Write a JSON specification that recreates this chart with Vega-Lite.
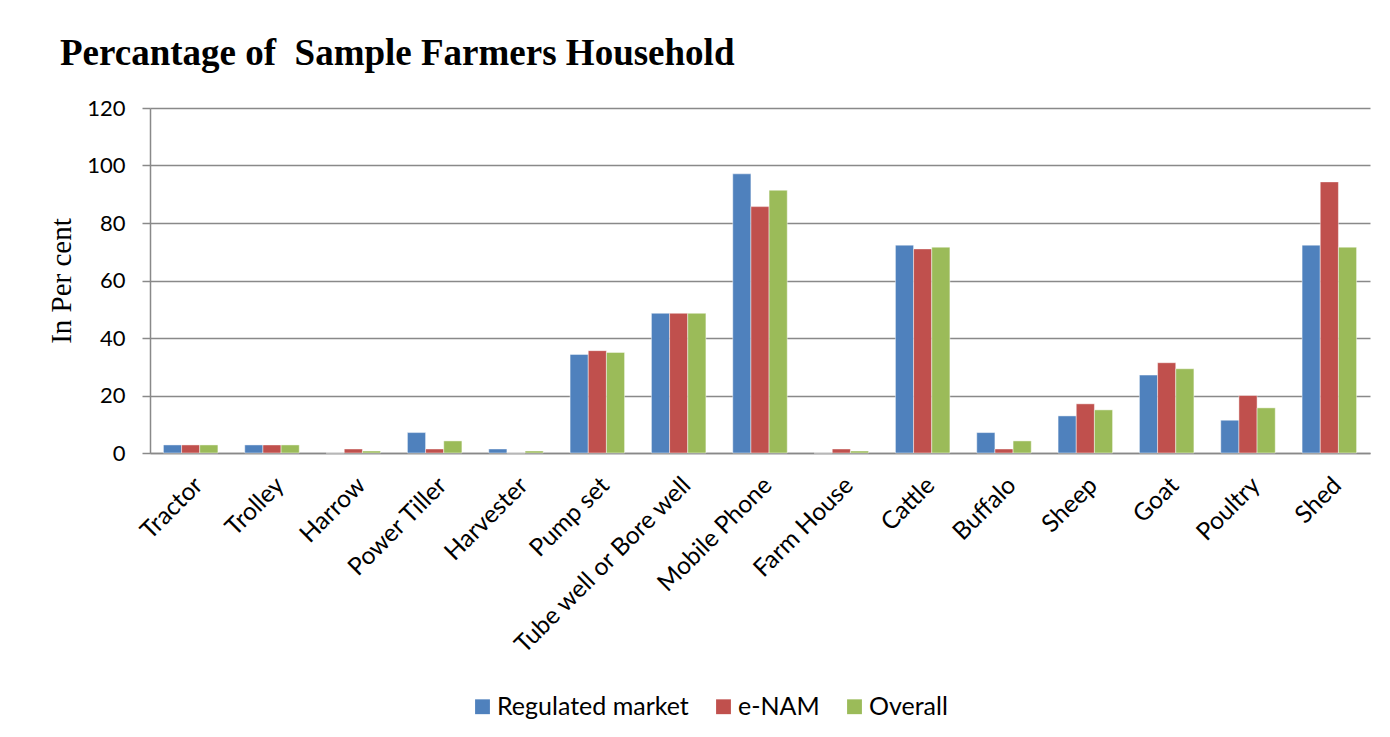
{
  "$schema": "https://vega.github.io/schema/vega-lite/v6.json",
  "width": 1220,
  "height": 345,
  "autosize": "none",
  "padding": {"left": 150, "top": 108, "right": 20, "bottom": 284},
  "background": "white",
  "title": {
    "text": "Percantage of\u00a0 Sample Farmers Household",
    "anchor": "start",
    "frame": "group",
    "dx": -90,
    "offset": -5,
    "baseline": "alphabetic",
    "font": "Liberation Serif",
    "fontSize": 37,
    "fontWeight": "bold",
    "color": "black"
  },
  "data": {
    "values": [
      {"item": "Tractor", "series": "Regulated market", "value": 2.8},
      {"item": "Tractor", "series": "e-NAM", "value": 2.8},
      {"item": "Tractor", "series": "Overall", "value": 2.8},
      {"item": "Trolley", "series": "Regulated market", "value": 2.8},
      {"item": "Trolley", "series": "e-NAM", "value": 2.8},
      {"item": "Trolley", "series": "Overall", "value": 2.8},
      {"item": "Harrow", "series": "Regulated market", "value": 0},
      {"item": "Harrow", "series": "e-NAM", "value": 1.4},
      {"item": "Harrow", "series": "Overall", "value": 0.7},
      {"item": "Power Tiller", "series": "Regulated market", "value": 7.1},
      {"item": "Power Tiller", "series": "e-NAM", "value": 1.4},
      {"item": "Power Tiller", "series": "Overall", "value": 4.2},
      {"item": "Harvester", "series": "Regulated market", "value": 1.4},
      {"item": "Harvester", "series": "e-NAM", "value": 0},
      {"item": "Harvester", "series": "Overall", "value": 0.7},
      {"item": "Pump set", "series": "Regulated market", "value": 34.3},
      {"item": "Pump set", "series": "e-NAM", "value": 35.6},
      {"item": "Pump set", "series": "Overall", "value": 35.0},
      {"item": "Tube well or Bore well", "series": "Regulated market", "value": 48.6},
      {"item": "Tube well or Bore well", "series": "e-NAM", "value": 48.6},
      {"item": "Tube well or Bore well", "series": "Overall", "value": 48.6},
      {"item": "Mobile Phone", "series": "Regulated market", "value": 97.1},
      {"item": "Mobile Phone", "series": "e-NAM", "value": 85.7},
      {"item": "Mobile Phone", "series": "Overall", "value": 91.4},
      {"item": "Farm House", "series": "Regulated market", "value": 0},
      {"item": "Farm House", "series": "e-NAM", "value": 1.4},
      {"item": "Farm House", "series": "Overall", "value": 0.7},
      {"item": "Cattle", "series": "Regulated market", "value": 72.3},
      {"item": "Cattle", "series": "e-NAM", "value": 71.0},
      {"item": "Cattle", "series": "Overall", "value": 71.6},
      {"item": "Buffalo", "series": "Regulated market", "value": 7.1},
      {"item": "Buffalo", "series": "e-NAM", "value": 1.4},
      {"item": "Buffalo", "series": "Overall", "value": 4.2},
      {"item": "Sheep", "series": "Regulated market", "value": 12.9},
      {"item": "Sheep", "series": "e-NAM", "value": 17.1},
      {"item": "Sheep", "series": "Overall", "value": 15.0},
      {"item": "Goat", "series": "Regulated market", "value": 27.1},
      {"item": "Goat", "series": "e-NAM", "value": 31.4},
      {"item": "Goat", "series": "Overall", "value": 29.3},
      {"item": "Poultry", "series": "Regulated market", "value": 11.4},
      {"item": "Poultry", "series": "e-NAM", "value": 20.0},
      {"item": "Poultry", "series": "Overall", "value": 15.7},
      {"item": "Shed", "series": "Regulated market", "value": 72.3},
      {"item": "Shed", "series": "e-NAM", "value": 94.3},
      {"item": "Shed", "series": "Overall", "value": 71.6}
    ]
  },
  "mark": {"type": "bar", "stroke": "white", "strokeOpacity": 0.45, "strokeWidth": 1},
  "encoding": {
    "x": {
      "field": "item",
      "type": "nominal",
      "sort": null,
      "title": null,
      "scale": {"paddingInner": 0.33, "paddingOuter": 0.165},
      "axis": {
        "labelAngle": -45,
        "labelFont": "Lato",
        "labelFontSize": 24.5,
        "labelColor": "black",
        "labelLimit": 400,
        "labelPadding": 20,
        "labelDx": -4,
        "ticks": false,
        "domainColor": "#898989",
        "domainWidth": 1.5
      }
    },
    "xOffset": {
      "field": "series",
      "type": "nominal",
      "sort": ["Regulated market", "e-NAM", "Overall"]
    },
    "y": {
      "field": "value",
      "type": "quantitative",
      "title": "In Per cent",
      "scale": {"domain": [0, 120]},
      "axis": {
        "values": [0, 20, 40, 60, 80, 100, 120],
        "labelFont": "Lato",
        "labelFontSize": 22,
        "labelColor": "black",
        "labelPadding": 17,
        "tickSize": 8,
        "tickColor": "#898989",
        "tickWidth": 1.5,
        "domainColor": "#898989",
        "domainWidth": 1.5,
        "grid": true,
        "gridColor": "#898989",
        "gridWidth": 1.5,
        "titleFont": "Liberation Serif",
        "titleFontSize": 29,
        "titleFontWeight": "normal",
        "titleColor": "black",
        "titlePadding": 10
      }
    },
    "color": {
      "field": "series",
      "type": "nominal",
      "sort": ["Regulated market", "e-NAM", "Overall"],
      "scale": {
        "domain": ["Regulated market", "e-NAM", "Overall"],
        "range": ["#4F81BD", "#C0504D", "#9BBB59"]
      },
      "legend": {
        "title": null,
        "orient": "none",
        "direction": "horizontal",
        "legendX": 320,
        "legendY": 586,
        "symbolType": "square",
        "symbolSize": 220,
        "symbolStrokeWidth": 0,
        "symbolOpacity": 1,
        "labelFont": "Lato",
        "labelFontSize": 25,
        "labelColor": "black",
        "labelOffset": 2,
        "columnPadding": 22,
        "labelLimit": 400
      }
    }
  },
  "config": {
    "view": {"stroke": null}
  }
}
